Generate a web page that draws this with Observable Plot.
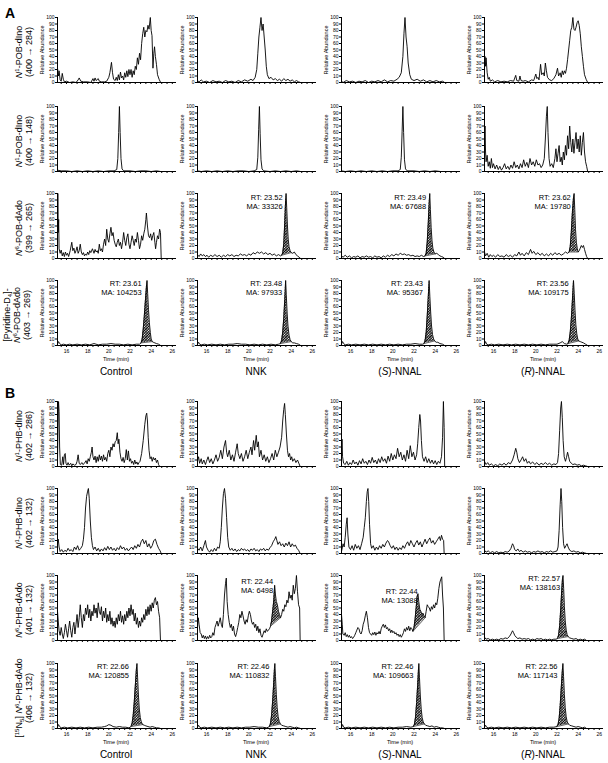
<!DOCTYPE html>
<html><head><meta charset="utf-8">
<script src="https://cdn.jsdelivr.net/npm/d3@7"></script>
<script src="https://cdn.jsdelivr.net/npm/@observablehq/plot@0.6"></script>
<style>
html,body{margin:0;padding:0;background:#fff;}
#fig{position:relative;width:608px;height:763px;overflow:hidden;font-family:"Liberation Sans",Arial,sans-serif;color:#000;background:#fff;}
#fig sup,#fig sub{font-size:0.68em;line-height:0;}
#fig sup{vertical-align:0.5em;}
#fig sub{vertical-align:-0.25em;}
</style></head><body>
<svg width="0" height="0" style="position:absolute">
<defs>
<pattern id="hatch" patternUnits="userSpaceOnUse" width="1.9" height="1.9" patternTransform="rotate(45)">
<rect width="1.9" height="1.9" fill="#fff"/>
<line x1="0.5" y1="0" x2="0.5" y2="1.9" stroke="#000" stroke-width="0.9"/>
<line x1="0" y1="0.5" x2="1.9" y2="0.5" stroke="#000" stroke-width="0.6"/>
</pattern>
</defs>
</svg>
<div id="fig"></div>
<script>
// ---------- DATA: [time (min), relative abundance (%)] ----------
// Panel A, row 1: N1-POB-dIno (400 -> 284)
const A1_ctrl = [[15.15,22],[15.25,10],[15.3,18],[15.4,4],[15.5,2],[15.6,14],[15.7,5],[15.8,1],[16.0,2],[16.3,0],[16.6,1],[16.9,0],[17.1,4],[17.2,7],[17.35,2],[17.6,1],[18.0,1],[18.3,0],[18.5,6],[18.6,2],[18.7,7],[18.8,3],[19.0,6],[19.1,2],[19.3,1],[19.6,1],[19.8,2],[20.0,8],[20.1,15],[20.25,31],[20.35,15],[20.45,5],[20.6,3],[20.7,8],[20.8,3],[20.9,12],[21.0,4],[21.1,16],[21.2,7],[21.3,10],[21.4,4],[21.5,15],[21.6,8],[21.7,18],[21.8,9],[21.9,20],[22.0,12],[22.1,20],[22.2,8],[22.3,18],[22.4,12],[22.5,25],[22.6,20],[22.7,38],[22.8,28],[22.9,45],[23.0,35],[23.1,60],[23.2,75],[23.3,85],[23.4,70],[23.5,80],[23.6,78],[23.7,88],[23.8,82],[23.92,100],[24.0,80],[24.08,72],[24.17,22],[24.25,45],[24.32,55],[24.4,40],[24.5,28],[24.6,12],[24.75,5],[24.9,0],[26.2,0]];
const A1_nnk = [[15.15,3],[15.3,1],[15.5,4],[15.7,1],[16.0,2],[16.3,0],[16.6,3],[16.9,1],[17.2,2],[17.5,0],[17.8,3],[18.1,1],[18.4,2],[18.7,0],[19.0,3],[19.3,1],[19.6,4],[19.9,2],[20.2,5],[20.4,3],[20.6,8],[20.75,20],[20.85,45],[20.95,70],[21.05,85],[21.15,100],[21.25,80],[21.35,90],[21.45,70],[21.55,50],[21.65,25],[21.75,12],[21.9,6],[22.1,8],[22.3,4],[22.5,6],[22.7,3],[22.9,5],[23.1,2],[23.3,6],[23.5,3],[23.7,5],[23.9,2],[24.1,4],[24.3,1],[24.5,3],[24.7,1],[24.9,0],[26.2,0]];
const A1_s = [[15.15,2],[15.3,0],[15.6,3],[15.9,1],[16.2,2],[16.5,0],[16.8,2],[17.1,1],[17.4,3],[17.7,0],[18.0,2],[18.3,1],[18.6,3],[18.9,1],[19.2,4],[19.5,1],[19.8,3],[20.1,2],[20.4,5],[20.6,8],[20.8,15],[20.95,40],[21.05,75],[21.15,100],[21.25,70],[21.35,55],[21.45,30],[21.6,12],[21.75,5],[22.0,3],[22.3,5],[22.6,2],[22.9,4],[23.2,1],[23.5,3],[23.8,1],[24.1,3],[24.4,1],[24.7,2],[24.9,0],[26.2,0]];
const A1_r = [[15.15,30],[15.2,40],[15.25,25],[15.3,38],[15.4,15],[15.5,5],[15.6,8],[15.7,2],[15.9,4],[16.1,1],[16.4,3],[16.7,1],[17.0,2],[17.3,1],[17.6,3],[17.9,2],[18.1,11],[18.2,3],[18.4,2],[18.5,10],[18.6,3],[18.8,2],[19.0,3],[19.3,1],[19.6,4],[19.8,3],[20.0,13],[20.1,6],[20.2,8],[20.3,4],[20.45,28],[20.55,12],[20.7,15],[20.8,10],[20.9,30],[21.0,18],[21.1,8],[21.3,4],[21.5,3],[21.7,6],[21.9,12],[22.05,22],[22.15,10],[22.3,15],[22.4,8],[22.5,18],[22.6,12],[22.7,18],[22.8,14],[22.9,22],[23.0,35],[23.1,50],[23.2,65],[23.3,80],[23.4,85],[23.5,100],[23.6,82],[23.7,80],[23.8,85],[23.9,92],[24.0,95],[24.1,88],[24.2,75],[24.3,55],[24.4,40],[24.5,25],[24.6,12],[24.75,5],[24.9,0],[26.2,0]];
// Panel A, row 2: N1-POB-dIno (400 -> 148)
const A2_ctrl = [[15.15,2],[15.5,1],[16,1],[16.5,0],[17,1],[17.5,0],[18,1],[18.5,0],[19,1],[19.5,0],[20,1],[20.5,1],[20.75,3],[20.85,20],[20.93,60],[21.0,100],[21.07,60],[21.15,20],[21.25,4],[21.4,1],[22,1],[22.5,0],[23,1],[23.5,1],[24,0],[24.5,1],[24.9,0],[26.2,0]];
const A2_nnk = [[15.15,1],[15.5,0],[16,1],[16.5,0],[17,1],[17.5,0],[18,1],[18.5,0],[19,1],[19.5,1],[20,0],[20.5,1],[20.75,3],[20.85,22],[20.93,65],[21.0,100],[21.07,58],[21.15,18],[21.25,4],[21.4,1],[22,0],[22.5,1],[23,0],[23.5,1],[24,0],[24.5,1],[24.9,0],[26.2,0]];
const A2_s = [[15.15,1],[15.5,0],[16,1],[16.5,0],[17,1],[17.5,0],[18,1],[18.5,0],[19,1],[19.5,0],[20,1],[20.5,1],[20.7,3],[20.8,22],[20.88,62],[20.95,100],[21.02,60],[21.1,18],[21.2,4],[21.35,1],[22,1],[22.5,0],[23,1],[23.5,0],[24,1],[24.5,0],[24.9,0],[26.2,0]];
const A2_r = [[15.15,40],[15.2,70],[15.25,30],[15.3,15],[15.4,25],[15.5,8],[15.6,15],[15.7,5],[15.8,20],[15.9,6],[16.0,12],[16.15,4],[16.3,10],[16.45,3],[16.6,8],[16.75,2],[16.9,6],[17.05,12],[17.2,4],[17.35,8],[17.5,3],[17.65,10],[17.8,5],[17.95,15],[18.1,6],[18.25,10],[18.4,4],[18.55,12],[18.7,6],[18.85,18],[19.0,8],[19.15,14],[19.3,6],[19.45,20],[19.6,10],[19.75,15],[19.9,8],[20.05,18],[20.2,10],[20.35,12],[20.5,6],[20.65,10],[20.8,20],[20.9,50],[21.0,85],[21.08,100],[21.15,60],[21.25,20],[21.35,8],[21.5,12],[21.65,6],[21.8,20],[21.9,35],[22.0,15],[22.1,28],[22.2,40],[22.3,15],[22.4,22],[22.5,10],[22.6,30],[22.7,18],[22.8,40],[22.9,25],[23.0,55],[23.1,35],[23.2,70],[23.3,45],[23.4,30],[23.5,50],[23.6,28],[23.7,45],[23.8,60],[23.9,35],[24.0,50],[24.1,30],[24.2,55],[24.3,25],[24.4,45],[24.5,60],[24.6,30],[24.7,15],[24.8,8],[24.9,0],[26.2,0]];
// Panel A, row 3: N6-POB-dAdo (399 -> 265)
const A3_ctrl = [[15.15,45],[15.18,100],[15.22,40],[15.26,60],[15.3,15],[15.4,8],[15.5,13],[15.6,4],[15.7,9],[15.8,3],[15.9,10],[16.0,5],[16.1,8],[16.2,3],[16.35,12],[16.5,25],[16.6,12],[16.7,16],[16.8,8],[16.9,12],[17.0,18],[17.1,8],[17.2,12],[17.3,22],[17.4,10],[17.5,6],[17.6,9],[17.7,4],[17.8,7],[17.9,5],[18.0,10],[18.1,6],[18.2,12],[18.3,9],[18.45,15],[18.6,8],[18.7,14],[18.8,10],[18.9,12],[19.0,8],[19.1,22],[19.2,12],[19.3,15],[19.4,10],[19.5,22],[19.6,30],[19.7,20],[19.8,45],[19.9,30],[20.0,25],[20.1,38],[20.2,48],[20.3,35],[20.4,40],[20.5,28],[20.6,22],[20.7,18],[20.8,25],[20.9,30],[21.0,20],[21.1,25],[21.2,15],[21.3,25],[21.4,40],[21.5,28],[21.6,20],[21.7,32],[21.8,38],[21.9,22],[22.0,15],[22.1,25],[22.2,35],[22.3,28],[22.4,20],[22.5,30],[22.6,25],[22.7,40],[22.8,28],[22.9,15],[23.0,22],[23.1,35],[23.2,28],[23.3,38],[23.4,45],[23.5,60],[23.55,70],[23.65,50],[23.75,35],[23.85,32],[23.95,38],[24.05,28],[24.15,35],[24.25,40],[24.35,25],[24.42,15],[24.5,25],[24.6,35],[24.7,30],[24.8,45],[24.88,40],[24.95,0],[26.2,0]];
const A3_nnk = [[15.15,6],[15.3,3],[15.45,7],[15.6,4],[15.75,6],[15.9,3],[16.05,5],[16.2,2],[16.4,5],[16.6,3],[16.8,6],[17.0,3],[17.2,5],[17.4,2],[17.6,5],[17.8,3],[18.0,6],[18.2,4],[18.4,6],[18.6,3],[18.8,5],[19.0,4],[19.2,7],[19.4,5],[19.6,6],[19.8,4],[20.0,7],[20.2,5],[20.4,9],[20.6,7],[20.8,10],[21.0,8],[21.2,10],[21.4,7],[21.6,9],[21.8,6],[22.0,8],[22.2,5],[22.4,7],[22.6,4],[22.8,6],[23.0,4],[23.1,5],[23.2,8],[23.3,22],[23.38,50],[23.45,80],[23.52,100],[23.58,78],[23.65,50],[23.72,30],[23.8,18],[23.9,12],[24.0,9],[24.15,8],[24.3,10],[24.45,6],[24.6,4],[24.75,2],[24.9,0],[26.2,0]];
const A3_s = [[15.15,4],[15.3,2],[15.5,5],[15.7,2],[15.9,4],[16.1,1],[16.3,3],[16.5,2],[16.7,4],[16.9,1],[17.1,3],[17.3,2],[17.5,4],[17.7,2],[17.9,3],[18.1,1],[18.3,4],[18.5,2],[18.7,3],[18.9,1],[19.1,4],[19.3,2],[19.5,5],[19.7,3],[19.9,6],[20.1,4],[20.3,7],[20.5,5],[20.7,8],[20.9,6],[21.1,7],[21.3,5],[21.5,6],[21.7,4],[21.9,5],[22.1,3],[22.3,4],[22.5,3],[22.7,5],[22.9,3],[23.05,4],[23.15,8],[23.25,25],[23.35,55],[23.42,82],[23.49,100],[23.55,75],[23.62,48],[23.7,28],[23.78,16],[23.88,10],[24.0,7],[24.15,8],[24.3,6],[24.45,4],[24.6,3],[24.75,2],[24.9,0],[26.2,0]];
const A3_r = [[15.15,10],[15.25,4],[15.4,8],[15.55,2],[15.7,6],[15.85,3],[16.0,5],[16.2,2],[16.4,6],[16.6,3],[16.8,4],[17.0,2],[17.2,6],[17.4,3],[17.6,5],[17.8,2],[18.0,6],[18.2,4],[18.4,10],[18.55,5],[18.7,8],[18.9,4],[19.1,9],[19.3,6],[19.5,14],[19.65,8],[19.8,11],[20.0,6],[20.2,9],[20.4,5],[20.6,8],[20.8,4],[21.0,7],[21.2,4],[21.4,8],[21.6,5],[21.8,9],[22.0,6],[22.2,8],[22.4,5],[22.6,7],[22.8,10],[23.0,8],[23.15,10],[23.25,18],[23.35,40],[23.45,70],[23.55,92],[23.62,100],[23.68,75],[23.75,45],[23.83,25],[23.92,15],[24.0,10],[24.1,12],[24.2,16],[24.3,20],[24.4,17],[24.5,20],[24.6,14],[24.7,8],[24.8,3],[24.9,0],[26.2,0]];
// Panel A, row 4: [Pyridine-D4]-N6-POB-dAdo (403 -> 269)
const A4_ctrl = [[15.15,2],[15.25,6],[15.35,3],[15.5,1],[15.7,2],[16.0,1],[16.3,2],[16.6,1],[17.0,2],[17.4,1],[17.8,2],[18.2,1],[18.6,3],[19.0,1],[19.4,2],[19.8,2],[20.2,3],[20.6,2],[21.0,2],[21.4,1],[21.8,2],[22.2,1],[22.6,2],[22.9,2],[23.05,4],[23.15,10],[23.25,25],[23.35,45],[23.45,68],[23.55,90],[23.61,100],[23.67,80],[23.75,55],[23.83,35],[23.92,20],[24.0,10],[24.1,6],[24.2,5],[24.35,4],[24.5,3],[24.7,2],[24.9,0],[26.2,0]];
const A4_nnk = [[15.15,2],[15.25,5],[15.35,2],[15.5,1],[15.8,2],[16.1,1],[16.5,2],[16.9,1],[17.3,2],[17.7,1],[18.1,2],[18.5,2],[18.9,3],[19.3,2],[19.7,2],[20.1,1],[20.5,2],[20.9,1],[21.3,2],[21.7,1],[22.1,2],[22.5,1],[22.8,2],[23.0,3],[23.1,8],[23.2,20],[23.3,42],[23.4,72],[23.48,100],[23.54,78],[23.62,50],[23.7,30],[23.8,16],[23.9,9],[24.0,6],[24.15,4],[24.3,4],[24.5,3],[24.7,2],[24.9,0],[26.2,0]];
const A4_s = [[15.15,2],[15.25,6],[15.35,3],[15.5,1],[15.8,2],[16.1,1],[16.5,2],[16.9,1],[17.3,2],[17.7,1],[18.1,2],[18.5,1],[18.9,2],[19.3,1],[19.7,2],[20.1,1],[20.5,2],[20.9,1],[21.3,2],[21.7,2],[22.1,3],[22.5,2],[22.8,2],[22.95,3],[23.05,8],[23.15,20],[23.25,45],[23.35,75],[23.43,100],[23.5,75],[23.58,50],[23.66,30],[23.75,17],[23.85,10],[23.95,7],[24.1,5],[24.25,5],[24.45,3],[24.7,2],[24.9,0],[26.2,0]];
const A4_r = [[15.15,2],[15.25,6],[15.35,2],[15.5,1],[15.8,2],[16.1,1],[16.5,2],[16.9,1],[17.3,2],[17.7,1],[18.1,2],[18.5,1],[18.9,2],[19.3,1],[19.7,2],[20.1,1],[20.5,2],[20.9,1],[21.3,2],[21.7,2],[22.0,2],[22.3,4],[22.5,6],[22.7,3],[22.9,2],[23.05,3],[23.15,8],[23.25,20],[23.35,40],[23.45,68],[23.56,100],[23.63,80],[23.7,55],[23.78,32],[23.87,18],[23.96,10],[24.05,7],[24.2,6],[24.35,5],[24.5,4],[24.7,2],[24.9,0],[26.2,0]];
// Panel B, row 1: N1-PHB-dIno (402 -> 286)
const B1_ctrl = [[15.15,10],[15.2,60],[15.25,100],[15.3,85],[15.35,30],[15.42,3],[15.55,2],[15.65,15],[15.72,3],[15.8,18],[15.88,20],[15.95,5],[16.05,2],[16.15,6],[16.25,2],[16.4,5],[16.5,1],[16.6,4],[16.75,2],[16.9,3],[17.0,8],[17.1,18],[17.2,5],[17.3,3],[17.45,6],[17.55,3],[17.7,5],[17.85,9],[17.95,4],[18.05,12],[18.15,8],[18.25,15],[18.35,22],[18.42,30],[18.5,15],[18.6,10],[18.7,16],[18.8,6],[18.9,15],[19.0,8],[19.1,18],[19.2,10],[19.3,16],[19.4,8],[19.5,18],[19.6,10],[19.7,14],[19.8,8],[19.9,20],[20.0,25],[20.1,15],[20.2,30],[20.3,25],[20.4,35],[20.5,30],[20.6,38],[20.7,40],[20.8,52],[20.88,35],[20.95,42],[21.05,22],[21.15,12],[21.25,8],[21.35,14],[21.45,6],[21.55,12],[21.65,26],[21.75,10],[21.85,24],[21.95,8],[22.05,12],[22.15,5],[22.25,8],[22.35,3],[22.45,10],[22.55,4],[22.65,7],[22.75,3],[22.85,6],[22.95,8],[23.1,20],[23.25,40],[23.4,65],[23.5,78],[23.58,82],[23.65,70],[23.72,45],[23.8,25],[23.9,12],[24.0,15],[24.1,8],[24.2,14],[24.3,10],[24.4,13],[24.5,6],[24.6,10],[24.7,3],[24.8,0],[26.2,0]];
const B1_nnk = [[15.15,8],[15.25,15],[15.35,5],[15.5,12],[15.6,4],[15.75,10],[15.9,3],[16.0,8],[16.15,15],[16.3,6],[16.45,12],[16.6,4],[16.75,10],[16.9,18],[17.05,8],[17.2,14],[17.35,25],[17.5,12],[17.65,30],[17.8,40],[17.9,22],[18.0,15],[18.15,25],[18.3,10],[18.45,18],[18.6,8],[18.75,22],[18.9,35],[19.0,20],[19.15,12],[19.3,20],[19.45,8],[19.6,15],[19.75,25],[19.9,12],[20.05,22],[20.2,30],[20.3,18],[20.45,40],[20.55,25],[20.7,48],[20.8,30],[20.9,38],[21.0,15],[21.15,25],[21.3,10],[21.45,18],[21.6,8],[21.75,15],[21.9,6],[22.05,12],[22.2,20],[22.35,10],[22.5,25],[22.65,15],[22.8,22],[22.95,30],[23.1,45],[23.2,70],[23.3,88],[23.38,97],[23.45,80],[23.55,50],[23.65,25],[23.75,15],[23.85,20],[23.95,10],[24.05,15],[24.15,8],[24.3,12],[24.45,6],[24.6,10],[24.75,4],[24.85,0],[26.2,0]];
const B1_s = [[15.15,20],[15.2,42],[15.25,15],[15.35,5],[15.5,3],[15.65,8],[15.8,2],[15.95,6],[16.1,3],[16.25,10],[16.4,4],[16.55,7],[16.7,2],[16.85,9],[17.0,4],[17.15,12],[17.3,5],[17.45,8],[17.6,3],[17.75,10],[17.9,5],[18.05,14],[18.2,6],[18.35,10],[18.5,4],[18.65,12],[18.8,6],[18.95,15],[19.1,8],[19.25,12],[19.4,5],[19.55,16],[19.7,8],[19.85,20],[20.0,10],[20.15,18],[20.3,12],[20.45,28],[20.6,15],[20.75,22],[20.9,10],[21.05,18],[21.2,8],[21.35,25],[21.5,12],[21.65,32],[21.8,15],[21.95,22],[22.1,10],[22.25,18],[22.35,35],[22.45,60],[22.55,80],[22.62,70],[22.7,40],[22.8,15],[22.95,8],[23.1,15],[23.25,6],[23.4,12],[23.55,5],[23.7,10],[23.85,4],[24.0,9],[24.15,3],[24.3,8],[24.45,5],[24.6,15],[24.7,45],[24.78,100],[24.85,60],[24.9,0],[26.2,0]];
const B1_r = [[15.15,8],[15.3,3],[15.45,6],[15.6,2],[15.8,4],[16.0,1],[16.2,3],[16.4,1],[16.6,4],[16.8,2],[17.0,5],[17.2,2],[17.4,6],[17.6,4],[17.8,10],[17.95,18],[18.1,28],[18.2,22],[18.3,12],[18.45,6],[18.6,10],[18.75,15],[18.9,8],[19.05,12],[19.2,5],[19.35,8],[19.5,4],[19.7,7],[19.9,3],[20.1,6],[20.3,2],[20.5,5],[20.7,3],[20.9,6],[21.1,3],[21.3,5],[21.5,2],[21.7,4],[21.9,3],[22.05,6],[22.15,20],[22.25,55],[22.35,90],[22.42,100],[22.5,75],[22.58,40],[22.68,15],[22.8,8],[22.9,14],[23.0,22],[23.1,15],[23.2,8],[23.35,5],[23.5,3],[23.7,4],[23.9,2],[24.1,3],[24.3,1],[24.5,2],[24.7,1],[24.9,0],[26.2,0]];
// Panel B, row 2: N1-PHB-dIno (402 -> 132)
const B2_ctrl = [[15.15,15],[15.22,22],[15.3,10],[15.4,3],[15.55,6],[15.7,2],[15.85,5],[16.0,3],[16.15,8],[16.3,4],[16.45,6],[16.6,3],[16.75,10],[16.9,6],[17.05,12],[17.2,5],[17.35,8],[17.5,12],[17.6,22],[17.7,40],[17.8,70],[17.9,88],[18.0,96],[18.07,100],[18.15,85],[18.25,50],[18.35,25],[18.45,12],[18.55,6],[18.7,10],[18.85,4],[19.0,8],[19.15,3],[19.3,7],[19.45,4],[19.6,9],[19.75,5],[19.9,11],[20.05,6],[20.2,10],[20.35,5],[20.5,8],[20.65,4],[20.8,9],[20.95,6],[21.1,12],[21.25,7],[21.4,10],[21.55,5],[21.7,8],[21.85,4],[22.0,7],[22.15,10],[22.3,6],[22.45,12],[22.6,8],[22.75,14],[22.9,10],[23.05,18],[23.2,22],[23.35,15],[23.5,20],[23.65,10],[23.8,15],[23.95,8],[24.1,12],[24.25,20],[24.4,22],[24.55,14],[24.7,8],[24.85,4],[24.95,0],[26.2,0]];
const B2_nnk = [[15.15,8],[15.3,5],[15.45,10],[15.6,4],[15.75,12],[15.9,20],[16.0,10],[16.15,5],[16.3,2],[16.45,6],[16.6,3],[16.75,8],[16.9,4],[17.05,10],[17.2,8],[17.3,18],[17.4,40],[17.5,70],[17.6,92],[17.7,100],[17.8,85],[17.9,55],[18.0,25],[18.1,10],[18.25,5],[18.4,8],[18.55,4],[18.7,7],[18.85,3],[19.0,6],[19.15,4],[19.3,8],[19.45,5],[19.6,7],[19.75,4],[19.9,6],[20.05,3],[20.2,7],[20.35,5],[20.5,8],[20.65,4],[20.8,6],[20.95,3],[21.1,7],[21.25,5],[21.4,8],[21.55,4],[21.7,7],[21.85,5],[22.0,9],[22.15,12],[22.3,18],[22.45,22],[22.55,26],[22.65,20],[22.75,14],[22.9,18],[23.05,12],[23.2,15],[23.35,10],[23.5,16],[23.65,12],[23.8,18],[23.95,10],[24.1,15],[24.25,11],[24.4,13],[24.55,8],[24.7,5],[24.85,0],[26.2,0]];
const B2_s = [[15.15,3],[15.3,15],[15.4,10],[15.5,25],[15.6,45],[15.68,55],[15.75,30],[15.85,10],[16.0,6],[16.15,12],[16.3,5],[16.45,14],[16.6,8],[16.75,12],[16.9,6],[17.05,15],[17.2,25],[17.3,40],[17.4,55],[17.5,80],[17.58,95],[17.65,100],[17.72,80],[17.8,45],[17.9,15],[18.0,8],[18.15,12],[18.3,5],[18.45,10],[18.6,6],[18.75,12],[18.9,8],[19.05,14],[19.2,10],[19.35,16],[19.5,20],[19.6,18],[19.75,12],[19.9,8],[20.05,12],[20.2,6],[20.35,10],[20.5,5],[20.65,9],[20.8,6],[20.95,12],[21.1,8],[21.25,14],[21.4,18],[21.55,12],[21.7,20],[21.85,15],[22.0,10],[22.15,16],[22.3,20],[22.45,13],[22.6,18],[22.75,10],[22.9,16],[23.05,22],[23.2,15],[23.35,20],[23.5,24],[23.65,16],[23.8,20],[23.95,14],[24.1,18],[24.25,22],[24.4,26],[24.5,20],[24.6,28],[24.7,22],[24.8,20],[24.85,0],[26.2,0]];
const B2_r = [[15.15,5],[15.3,2],[15.5,4],[15.7,1],[15.9,3],[16.1,1],[16.3,3],[16.5,1],[16.7,2],[16.9,1],[17.1,3],[17.3,2],[17.5,4],[17.65,8],[17.8,15],[17.9,12],[18.0,6],[18.15,4],[18.3,7],[18.45,3],[18.6,5],[18.8,2],[19.0,4],[19.2,2],[19.4,3],[19.6,1],[19.8,3],[20.0,2],[20.2,4],[20.4,2],[20.6,3],[20.8,1],[21.0,3],[21.2,2],[21.4,4],[21.6,2],[21.8,3],[22.0,4],[22.1,10],[22.2,35],[22.3,75],[22.38,100],[22.45,80],[22.53,40],[22.62,15],[22.72,8],[22.85,12],[22.95,15],[23.05,10],[23.2,5],[23.4,3],[23.6,4],[23.8,2],[24.0,3],[24.2,1],[24.4,2],[24.6,1],[24.8,0],[26.2,0]];
// Panel B, row 3: N6-PHB-dAdo (401 -> 132)
const B3_ctrl = [[15.15,45],[15.22,30],[15.3,15],[15.4,8],[15.5,20],[15.6,10],[15.7,3],[15.8,12],[15.9,25],[16.0,15],[16.1,5],[16.2,18],[16.3,30],[16.4,15],[16.5,5],[16.6,20],[16.7,28],[16.8,10],[16.9,25],[17.0,40],[17.1,20],[17.2,35],[17.3,55],[17.4,35],[17.5,20],[17.6,40],[17.7,30],[17.8,50],[17.9,40],[18.0,55],[18.1,35],[18.2,48],[18.3,30],[18.4,45],[18.5,38],[18.6,55],[18.7,42],[18.8,50],[18.9,35],[19.0,58],[19.1,45],[19.2,40],[19.3,52],[19.4,30],[19.5,45],[19.6,35],[19.7,50],[19.8,28],[19.9,40],[20.0,30],[20.1,45],[20.2,25],[20.3,35],[20.4,22],[20.5,30],[20.6,20],[20.7,35],[20.8,25],[20.9,40],[21.0,30],[21.1,45],[21.2,28],[21.3,38],[21.4,25],[21.5,40],[21.6,30],[21.7,45],[21.8,35],[21.9,50],[22.0,38],[22.1,55],[22.2,40],[22.3,48],[22.4,30],[22.5,42],[22.6,25],[22.7,35],[22.8,20],[22.9,30],[23.0,22],[23.1,35],[23.2,28],[23.3,40],[23.4,32],[23.5,48],[23.6,38],[23.7,52],[23.8,40],[23.9,55],[24.0,45],[24.1,58],[24.2,50],[24.3,62],[24.4,66],[24.5,55],[24.6,60],[24.7,45],[24.8,35],[24.88,0],[26.2,0]];
const B3_nnk = [[15.15,20],[15.22,35],[15.3,25],[15.4,12],[15.5,10],[15.6,4],[15.7,8],[15.8,3],[15.9,7],[16.0,2],[16.1,6],[16.2,3],[16.3,8],[16.4,4],[16.5,6],[16.6,12],[16.7,8],[16.8,20],[16.9,25],[17.0,30],[17.1,22],[17.2,28],[17.3,35],[17.4,25],[17.5,20],[17.6,40],[17.7,70],[17.8,88],[17.87,96],[17.95,60],[18.05,40],[18.15,28],[18.25,20],[18.35,25],[18.45,15],[18.55,22],[18.65,10],[18.75,6],[18.85,12],[18.95,20],[19.05,28],[19.15,40],[19.25,35],[19.35,45],[19.45,38],[19.55,30],[19.65,25],[19.75,32],[19.85,28],[19.95,38],[20.05,45],[20.15,40],[20.25,30],[20.35,25],[20.45,28],[20.55,20],[20.65,25],[20.75,15],[20.85,22],[20.95,12],[21.05,18],[21.15,8],[21.25,5],[21.35,10],[21.45,15],[21.55,12],[21.65,18],[21.75,14],[21.85,16],[21.95,18],[22.05,22],[22.15,30],[22.25,45],[22.35,60],[22.44,85],[22.52,70],[22.6,60],[22.7,55],[22.8,45],[22.9,40],[23.0,35],[23.1,40],[23.2,48],[23.3,45],[23.4,55],[23.5,52],[23.6,62],[23.7,58],[23.8,75],[23.9,65],[24.0,70],[24.1,62],[24.2,85],[24.3,72],[24.4,80],[24.5,100],[24.6,75],[24.7,55],[24.8,50],[24.85,0],[26.2,0]];
const B3_s = [[15.15,40],[15.22,25],[15.28,10],[15.4,8],[15.5,12],[15.6,6],[15.7,9],[15.8,5],[15.9,8],[16.0,4],[16.1,6],[16.2,3],[16.3,5],[16.4,8],[16.5,12],[16.6,16],[16.7,20],[16.8,18],[16.9,12],[17.0,10],[17.1,15],[17.2,25],[17.3,30],[17.4,38],[17.5,45],[17.6,35],[17.7,20],[17.8,12],[17.9,10],[18.0,8],[18.1,12],[18.2,9],[18.3,13],[18.4,8],[18.5,12],[18.6,10],[18.7,14],[18.8,10],[18.9,18],[19.0,22],[19.1,25],[19.2,20],[19.3,24],[19.4,18],[19.5,20],[19.6,15],[19.7,18],[19.8,12],[19.9,16],[20.0,12],[20.1,14],[20.2,10],[20.3,12],[20.4,8],[20.5,10],[20.6,6],[20.7,9],[20.8,5],[20.9,8],[21.0,12],[21.1,18],[21.2,14],[21.3,20],[21.4,16],[21.5,22],[21.6,15],[21.7,20],[21.8,18],[21.9,14],[22.0,20],[22.1,32],[22.2,50],[22.3,68],[22.38,72],[22.45,60],[22.55,48],[22.65,45],[22.75,40],[22.85,42],[22.95,38],[23.05,35],[23.15,45],[23.25,55],[23.35,52],[23.45,50],[23.55,45],[23.65,52],[23.75,48],[23.85,55],[23.95,50],[24.05,58],[24.15,55],[24.25,65],[24.35,80],[24.45,90],[24.55,95],[24.62,98],[24.7,70],[24.78,50],[24.85,0],[26.2,0]];
const B3_r = [[15.15,5],[15.3,2],[15.5,3],[15.7,1],[15.9,2],[16.1,1],[16.3,2],[16.5,1],[16.7,3],[16.9,2],[17.1,4],[17.3,3],[17.5,6],[17.65,10],[17.8,15],[17.9,12],[18.0,8],[18.15,5],[18.3,3],[18.5,4],[18.7,2],[18.9,3],[19.1,2],[19.3,3],[19.5,1],[19.7,2],[19.9,1],[20.1,3],[20.3,2],[20.5,3],[20.7,1],[20.9,2],[21.1,1],[21.3,2],[21.5,1],[21.7,2],[21.9,2],[22.05,3],[22.15,8],[22.25,22],[22.35,48],[22.45,78],[22.52,95],[22.57,100],[22.63,80],[22.7,52],[22.78,30],[22.87,16],[22.96,9],[23.05,6],[23.2,4],[23.4,3],[23.6,2],[23.8,3],[24.0,1],[24.2,2],[24.4,1],[24.6,2],[24.8,0],[26.2,0]];
// Panel B, row 4: [15N5] N6-PHB-dAdo (406 -> 132)
const B4_ctrl = [[15.15,2],[15.25,6],[15.35,3],[15.5,1],[15.8,2],[16.1,1],[16.5,2],[16.9,1],[17.3,2],[17.7,1],[18.1,2],[18.5,1],[18.9,2],[19.3,2],[19.6,3],[19.8,4],[20.0,6],[20.2,5],[20.4,3],[20.7,2],[21.0,3],[21.3,2],[21.6,2],[21.9,1],[22.1,3],[22.2,8],[22.3,20],[22.4,40],[22.5,65],[22.6,90],[22.66,100],[22.72,78],[22.8,50],[22.88,30],[22.97,17],[23.07,10],[23.2,6],[23.35,5],[23.5,4],[23.7,3],[23.9,2],[24.1,3],[24.3,2],[24.5,1],[24.7,1],[24.9,0],[26.2,0]];
const B4_nnk = [[15.15,2],[15.25,5],[15.35,2],[15.5,1],[15.8,2],[16.1,1],[16.5,2],[16.9,1],[17.3,2],[17.7,1],[18.1,2],[18.5,1],[18.9,2],[19.3,1],[19.7,2],[20.1,2],[20.5,3],[20.9,2],[21.3,2],[21.7,1],[21.95,3],[22.05,8],[22.15,20],[22.25,42],[22.35,70],[22.42,92],[22.46,100],[22.52,80],[22.6,52],[22.68,32],[22.77,18],[22.87,11],[22.98,7],[23.1,5],[23.3,4],[23.5,3],[23.7,2],[23.9,3],[24.1,2],[24.3,1],[24.5,2],[24.7,1],[24.9,0],[26.2,0]];
const B4_s = [[15.15,2],[15.25,6],[15.35,2],[15.5,1],[15.8,2],[16.1,1],[16.5,2],[16.9,1],[17.3,2],[17.7,1],[18.1,2],[18.5,1],[18.9,2],[19.3,1],[19.7,2],[20.1,1],[20.5,2],[20.9,2],[21.3,3],[21.7,2],[21.95,3],[22.05,7],[22.15,18],[22.25,40],[22.35,68],[22.42,90],[22.46,100],[22.52,78],[22.6,50],[22.68,30],[22.77,17],[22.87,10],[22.98,7],[23.1,5],[23.3,4],[23.5,3],[23.7,4],[23.9,2],[24.1,3],[24.3,2],[24.5,1],[24.7,1],[24.9,0],[26.2,0]];
const B4_r = [[15.15,2],[15.25,5],[15.35,2],[15.5,1],[15.8,2],[16.1,1],[16.5,2],[16.9,1],[17.3,2],[17.7,1],[18.1,2],[18.5,1],[18.9,2],[19.3,1],[19.7,2],[20.1,1],[20.5,2],[20.9,1],[21.3,2],[21.7,2],[22.0,3],[22.1,6],[22.2,15],[22.3,35],[22.4,62],[22.5,88],[22.56,100],[22.62,80],[22.7,52],[22.78,32],[22.87,18],[22.97,10],[23.08,7],[23.2,5],[23.4,4],[23.6,3],[23.8,2],[24.0,3],[24.2,2],[24.4,1],[24.6,2],[24.8,0],[26.2,0]];

// Integrated (hatched) peak ranges [start, end] in minutes
const hatchRanges = {
  "A3-1": [23.1, 24.0], "A3-2": [23.05, 24.0], "A3-3": [23.15, 24.0],
  "A4-0": [23.05, 24.1], "A4-1": [23.0, 24.0], "A4-2": [22.95, 23.95], "A4-3": [23.05, 24.05],
  "B3-1": [22.05, 23.0], "B3-2": [21.9, 23.05], "B3-3": [22.05, 23.05],
  "B4-0": [22.1, 23.2], "B4-1": [21.95, 22.98], "B4-2": [21.95, 22.98], "B4-3": [22.0, 23.08]
};
// Peak annotations: retention time and area
const annRT = {"A3-1":"23.52","A3-2":"23.49","A3-3":"23.62","A4-0":"23.61","A4-1":"23.48","A4-2":"23.43","A4-3":"23.56",
  "B3-1":"22.44","B3-2":"22.44","B3-3":"22.57","B4-0":"22.66","B4-1":"22.46","B4-2":"22.46","B4-3":"22.56"};
const annMA = {"A3-1":"33326","A3-2":"67688","A3-3":"19780","A4-0":"104253","A4-1":"97933","A4-2":"95367","A4-3":"109175",
  "B3-1":"6498","B3-2":"13088","B3-3":"138163","B4-0":"120855","B4-1":"110832","B4-2":"109663","B4-3":"117143"};
// annotation anchor (right edge, first line centre) in data units
const annAt = {"A3-1":[23.2,93],"A3-2":[23.15,93],"A3-3":[23.3,93],"A4-0":[23.1,96],"A4-1":[23.15,96],"A4-2":[22.85,96],"A4-3":[23.1,96],
  "B3-1":[22.3,91],"B3-2":[22.35,76],"B3-3":[22.3,95],"B4-0":[21.9,95],"B4-1":[21.95,95],"B4-2":[21.95,95],"B4-3":[22.05,95]};

const conditions = ["Control", "NNK", "(<i>S</i>)-NNAL", "(<i>R</i>)-NNAL"];
const rowLabels = {
  A1: "<i>N</i><sup>1</sup>-POB-dIno<br>(400 → 284)",
  A2: "<i>N</i><sup>1</sup>-POB-dIno<br>(400 → 148)",
  A3: "<i>N</i><sup>6</sup>-POB-dAdo<br>(399 → 265)",
  A4: "[Pyridine-D<sub>4</sub>]-<br><i>N</i><sup>6</sup>-POB-dAdo<br>(403 → 269)",
  B1: "<i>N</i><sup>1</sup>-PHB-dIno<br>(402 → 286)",
  B2: "<i>N</i><sup>1</sup>-PHB-dIno<br>(402 → 132)",
  B3: "<i>N</i><sup>6</sup>-PHB-dAdo<br>(401 → 132)",
  B4: "[<sup>15</sup>N<sub>5</sub>] <i>N</i><sup>6</sup>-PHB-dAdo<br>(406 → 132)"
};
const rowTraces = {
  A1: [A1_ctrl, A1_nnk, A1_s, A1_r], A2: [A2_ctrl, A2_nnk, A2_s, A2_r],
  A3: [A3_ctrl, A3_nnk, A3_s, A3_r], A4: [A4_ctrl, A4_nnk, A4_s, A4_r],
  B1: [B1_ctrl, B1_nnk, B1_s, B1_r], B2: [B2_ctrl, B2_nnk, B2_s, B2_r],
  B3: [B3_ctrl, B3_nnk, B3_s, B3_r], B4: [B4_ctrl, B4_nnk, B4_s, B4_r]
};
const xTickValues = [15.5,16,16.5,17,17.5,18,18.5,19,19.5,20,20.5,21,21.5,22,22.5,23,23.5,24,24.5,25,25.5,26];
const yTickValues = [0,10,20,30,40,50,60,70,80,90,100];
const xDomain = [15.15, 26.3];

// ---------- LAYOUT ----------
const FONT = '"Liberation Sans", Arial, sans-serif';
const colAxisX = [57, 197, 341, 484];
const rowTop = {A1: 17, A2: 106, A3: 193, A4: 280, B1: 401, B2: 488, B3: 575, B4: 663};
const innerW = 118, innerH = 65, ML = 28, MR = 4, MT = 4;
const fig = document.getElementById("fig");

function addText(html, cx, cy, css, rotate) {
  const d = document.createElement("div");
  d.innerHTML = html;
  d.style.cssText = `position:absolute;left:${cx}px;top:${cy}px;transform:translate(-50%,-50%)${rotate ? " rotate(-90deg)" : ""};white-space:nowrap;text-align:center;${css}`;
  fig.appendChild(d);
}

function chart(trace, bottom, key) {
  const pts = trace.map(([t, v]) => ({t, v}));
  const marks = [];
  const hr = hatchRanges[key];
  if (hr) {
    const [from, to] = hr;
    const seg = pts.filter(d => d.t >= from - 1e-9 && d.t <= to + 1e-9);
    const b0 = seg[0].v, b1 = seg[seg.length - 1].v;
    const hd = seg.map(d => ({t: d.t, v: d.v, b: b0 + (b1 - b0) * (d.t - from) / (to - from)}));
    marks.push(Plot.areaY(hd, {x: "t", y1: "b", y2: "v", fill: "url(#hatch)"}));
    marks.push(Plot.line([hd[0], hd[hd.length - 1]], {x: "t", y: "b", stroke: "#000", strokeWidth: 0.6}));
  }
  marks.push(Plot.line(pts, {x: "t", y: "v", stroke: "#000", strokeWidth: 0.9}));
  if (annRT[key]) {
    const a = [{x: annAt[key][0], y: annAt[key][1], l1: "RT: " + annRT[key], l2: "MA: " + annMA[key]}];
    marks.push(Plot.text(a, {x: "x", y: "y", text: "l1", textAnchor: "end", fontSize: 7.5, fill: "#000"}));
    marks.push(Plot.text(a, {x: "x", y: "y", text: "l2", textAnchor: "end", fontSize: 7.5, fill: "#000", dy: 9}));
  }
  return Plot.plot({
    width: ML + innerW + MR,
    height: MT + innerH + (bottom ? 16 : 6),
    marginLeft: ML, marginRight: MR, marginTop: MT, marginBottom: bottom ? 16 : 6,
    style: {fontFamily: FONT, fontSize: "5px", color: "#000", background: "none", overflow: "visible"},
    x: {domain: xDomain, ticks: xTickValues, tickSize: 2, tickPadding: 1.5, line: true, label: null,
        tickFormat: bottom ? (d => (d % 2 === 0 ? String(d) : "")) : (() => "")},
    y: {domain: [0, 100], ticks: yTickValues, tickSize: 2, tickPadding: 1, line: true, label: null},
    marks
  });
}

for (const key of Object.keys(rowTraces)) {
  const top = rowTop[key];
  const bottom = key.endsWith("4");
  rowTraces[key].forEach((trace, c) => {
    const ax = colAxisX[c];
    const svg = chart(trace, bottom, key + "-" + c);
    const wrap = document.createElement("div");
    wrap.style.cssText = `position:absolute;left:${ax - ML}px;top:${top - MT}px;`;
    wrap.appendChild(svg);
    fig.appendChild(wrap);
    addText("Relative Abundance", ax - 15, top + innerH / 2, "font-size:5.5px;", true);
    if (bottom) {
      addText("Time (min)", ax + innerW / 2, top + innerH + 14, "font-size:5.5px;", false);
      addText(conditions[c], ax + innerW / 2, top + innerH + 26, "font-size:10px;", false);
    }
  });
  const threeLines = key === "A4";
  addText(rowLabels[key], threeLines ? 17 : 24, top + innerH / 2 + 2, "font-size:9px;line-height:10px;", true);
}
addText("A", 10, 13, "font-size:14px;font-weight:bold;", false);
addText("B", 10, 393, "font-size:14px;font-weight:bold;", false);
</script>
</body></html>
